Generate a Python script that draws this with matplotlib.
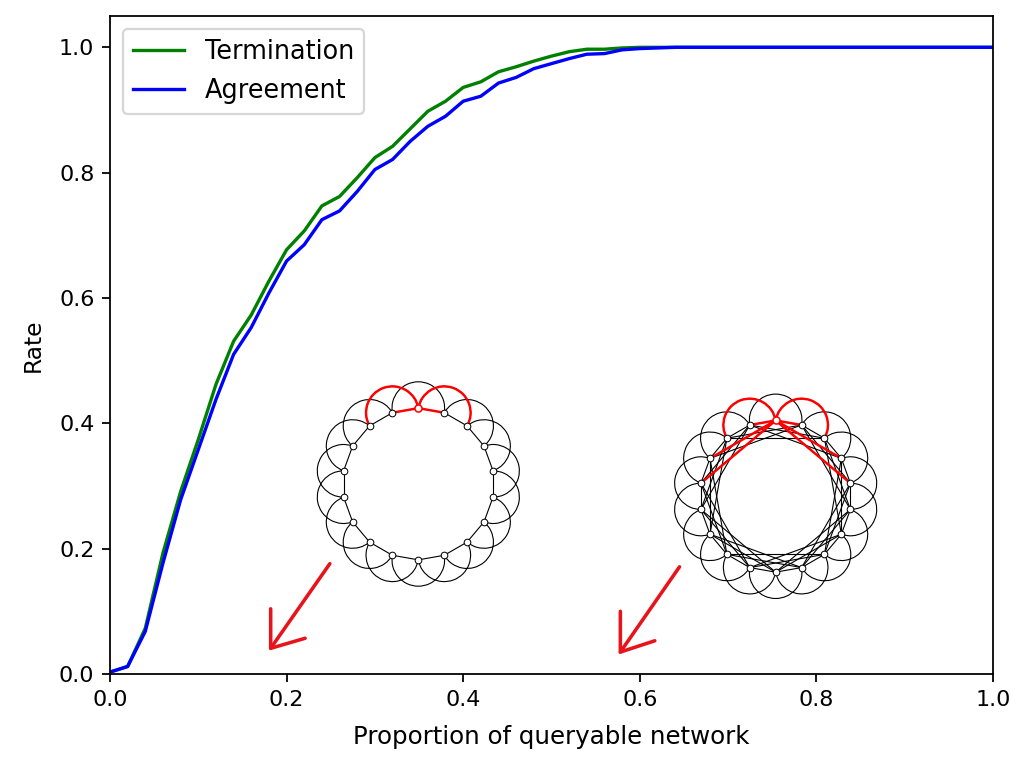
import numpy as np
import matplotlib
matplotlib.use("Agg")
import matplotlib.pyplot as plt
from matplotlib.patches import Arc

# proportion of queryable network (sampled every 0.02)
proportion = np.linspace(0.0, 1.0, 51)

termination = [0.003, 0.012, 0.073, 0.193, 0.291, 0.374, 0.462, 0.531, 0.573, 0.627,
               0.677, 0.707, 0.747, 0.762, 0.792, 0.824, 0.842, 0.870, 0.898, 0.914,
               0.936, 0.945, 0.961, 0.969, 0.978, 0.986, 0.993, 0.997, 0.997, 0.999,
               1.0, 1.0, 1.0, 1.0, 1.0, 1.0, 1.0, 1.0, 1.0, 1.0,
               1.0, 1.0, 1.0, 1.0, 1.0, 1.0, 1.0, 1.0, 1.0, 1.0, 1.0]

agreement = [0.003, 0.012, 0.068, 0.177, 0.278, 0.358, 0.438, 0.510, 0.553, 0.608,
             0.659, 0.685, 0.725, 0.739, 0.770, 0.805, 0.821, 0.850, 0.874, 0.890,
             0.914, 0.922, 0.943, 0.952, 0.966, 0.974, 0.982, 0.989, 0.990, 0.996,
             0.998, 0.999, 1.0, 1.0, 1.0, 1.0, 1.0, 1.0, 1.0, 1.0,
             1.0, 1.0, 1.0, 1.0, 1.0, 1.0, 1.0, 1.0, 1.0, 1.0, 1.0]

# ring networks shown as insets: 18 nodes, hop distances drawn straight / as arcs
n_nodes = 18
left_straight = [1]
right_straight = [1, 3, 4]


def draw_ring(ax, straight):
    ang = np.deg2rad(90 + 360.0 / n_nodes * np.arange(n_nodes))
    xs, ys = np.cos(ang), np.sin(ang)
    d = np.hypot(xs[1] - xs[0], ys[1] - ys[0])
    step = 360.0 / n_nodes
    half = 90 + step / 2

    # straight edges
    for i in range(n_nodes):
        for s in straight:
            j = (i + s) % n_nodes
            ax.plot([xs[i], xs[j]], [ys[i], ys[j]], color="black", lw=0.5, zorder=1)
    # distance-2 edges drawn as outer arcs around the middle node
    for i in range(n_nodes):
        phi = 90 + step * i
        ax.add_patch(Arc((xs[i], ys[i]), 2 * d, 2 * d, theta1=phi - half, theta2=phi + half,
                         color="black", lw=0.5, zorder=1))

    # highlighted edges of the top node
    for s in straight:
        for j in (s, n_nodes - s):
            ax.plot([xs[0], xs[j]], [ys[0], ys[j]], color="red", lw=1.1, zorder=2)
    for i in (1, n_nodes - 1):
        phi = 90 + step * i
        ax.add_patch(Arc((xs[i], ys[i]), 2 * d, 2 * d, theta1=phi - half, theta2=phi + half,
                         color="red", lw=1.1, zorder=2))

    ax.plot(xs[1:], ys[1:], "o", ms=3.0, mfc="white", mec="black", mew=0.45, zorder=3)
    ax.plot(xs[:1], ys[:1], "o", ms=3.2, mfc="white", mec="red", mew=0.7, zorder=3)
    ax.set_xlim(-1.45, 1.45)
    ax.set_ylim(-1.45, 1.45)
    ax.set_aspect("equal")
    ax.axis("off")


fig = plt.figure(figsize=(6.4, 4.7625), dpi=160)
ax = fig.add_axes([0.1074, 0.1155, 0.8623, 0.8635])

ax.plot(proportion, termination, color="green", label="Termination")
ax.plot(proportion, agreement, color="blue", label="Agreement")
ax.set_xlim(0, 1)
ax.set_ylim(0, 1.05)
ax.set_xlabel("Proportion of queryable network", fontsize=11, labelpad=7)
ax.set_ylabel("Rate", fontsize=10.5, labelpad=6.5)
ax.legend(loc="upper left", fontsize=11.5)

# hand-drawn red arrows pointing at the x axis
for tail, tip, arm1, arm2 in [((0.249, 0.176), (0.182, 0.041), (0.182, 0.104), (0.221, 0.057)),
                              ((0.645, 0.171), (0.578, 0.035), (0.578, 0.100), (0.617, 0.053))]:
    ax.plot([tail[0], tip[0]], [tail[1], tip[1]], color="#e8141c", lw=1.6, solid_capstyle="round")
    ax.plot([arm1[0], tip[0], arm2[0]], [arm1[1], tip[1], arm2[1]], color="#e8141c", lw=1.6,
            solid_capstyle="round", solid_joinstyle="round")

ins1 = ax.inset_axes([0.2246, 0.1216, 0.2492, 0.3343])
draw_ring(ins1, left_straight)
ins2 = ax.inset_axes([0.6293, 0.1029, 0.2492, 0.3343])
draw_ring(ins2, right_straight)

fig.savefig("out.png", dpi=160)
